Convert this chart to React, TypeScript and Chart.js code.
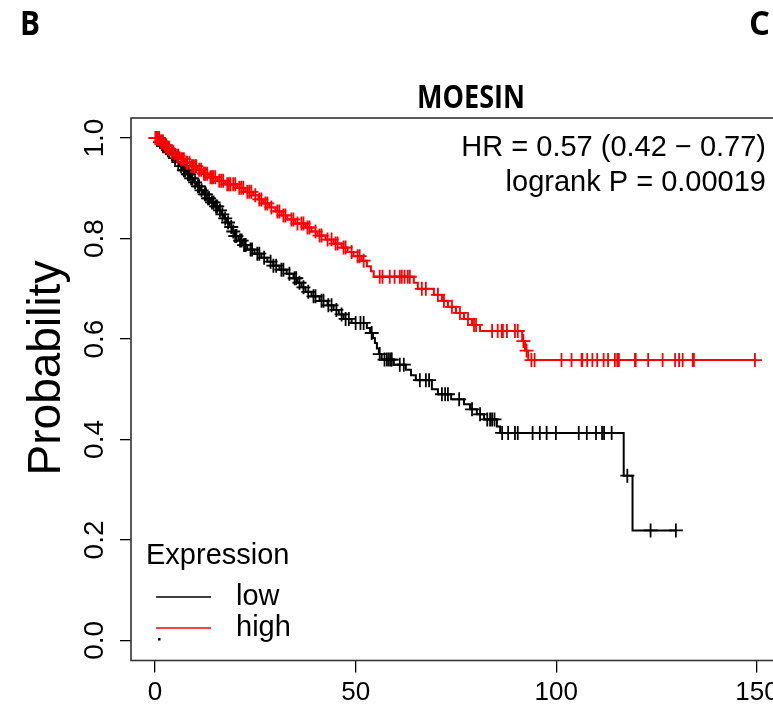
import React, { useEffect, useRef } from 'react';
import { Chart, registerables } from 'chart.js';

Chart.register(...registerables);

// ---------- text ----------
const chartTitle = 'MOESIN';
const panelLeft = 'B';
const panelRight = 'C';
const statLines = ['HR = 0.57 (0.42 \u2212 0.77)', 'logrank P = 0.00019'];
const legendTitle = 'Expression';
const seriesNames = ['low', 'high'];
const seriesColors = ['#000000', '#ff0000'];
const yAxisTitle = 'Probability';

// ---------- axes ----------
const xTicks = [0, 50, 100, 150];
const xTickLabels = ['0', '50', '100', '150'];
const yTicks = [0, 0.2, 0.4, 0.6, 0.8, 1.0];
const yTickLabels = ['0.0', '0.2', '0.4', '0.6', '0.8', '1.0'];
const xRange = [-5.98, 155.5];
const yRange = [-0.04, 1.04];

// ---------- low expression (black) ----------
const lowTimes = [0, 1.0, 2.0, 3.0, 3.8, 4.6, 5.4, 6.2, 6.9, 7.8, 8.8, 9.6, 10.4, 11.2, 12.0, 12.8, 13.8, 14.8, 15.8, 16.6, 17.2, 17.9, 18.6, 19.2, 19.9, 20.8, 21.8, 23.0, 24.8, 26.5, 28.0, 29.5, 31.0, 32.8, 34.5, 35.5, 36.5, 37.5, 39.0, 41.0, 43.0, 44.5, 45.8, 47.0, 49.0, 52.8, 53.6, 54.3, 54.8, 55.3, 55.8, 56.5, 59.5, 62.5, 63.8, 65.0, 69.0, 70.5, 73.8, 77.0, 78.5, 80.2, 82.0, 85.2, 86.0, 116.8, 119.0, 129.8];
const lowSurv = [1.0, 0.992, 0.984, 0.976, 0.968, 0.960, 0.952, 0.944, 0.936, 0.928, 0.920, 0.912, 0.904, 0.896, 0.888, 0.880, 0.872, 0.864, 0.856, 0.848, 0.840, 0.832, 0.823, 0.814, 0.805, 0.796, 0.787, 0.778, 0.770, 0.762, 0.754, 0.746, 0.738, 0.730, 0.721, 0.712, 0.703, 0.694, 0.685, 0.676, 0.667, 0.658, 0.649, 0.640, 0.632, 0.622, 0.612, 0.602, 0.592, 0.581, 0.570, 0.559, 0.549, 0.539, 0.528, 0.518, 0.500, 0.490, 0.480, 0.470, 0.460, 0.450, 0.440, 0.426, 0.413, 0.328, 0.219, 0.219];
const lowCensor = [0.2, 0.5, 0.9, 1.2, 1.5, 2.0, 2.5, 3.2, 3.5, 4.2, 4.5, 5.0, 5.8, 6.5, 7.2, 7.5, 8.2, 8.5, 9.0, 9.3, 10.0, 10.7, 11.0, 11.6, 12.4, 12.7, 13.2, 13.5, 14.2, 14.6, 15.2, 15.5, 16.2, 16.8, 17.5, 18.2, 19.0, 19.5, 20.0, 20.3, 21.2, 21.6, 22.2, 22.6, 23.8, 24.2, 25.5, 26.0, 27.2, 28.8, 29.5, 30.2, 31.5, 32.0, 33.5, 34.8, 35.2, 36.0, 37.0, 38.2, 39.5, 40.0, 41.5, 42.0, 43.2, 44.0, 45.2, 46.5, 47.5, 48.3, 50.0, 51.2, 52.0, 54.0, 56.0, 57.2, 57.8, 58.3, 58.8, 59.0, 61.0, 62.0, 66.0, 67.5, 68.3, 71.5, 72.3, 73.0, 75.8, 79.0, 81.0, 82.8, 83.5, 84.0, 84.6, 86.5, 88.0, 89.7, 90.4, 94.1, 95.9, 97.6, 99.9, 105.6, 107.6, 109.9, 111.4, 111.9, 113.8, 117.7, 123.5, 129.8];

// ---------- high expression (red) ----------
const highTimes = [0, 1.2, 2.2, 3.0, 4.0, 5.0, 6.2, 7.5, 9.0, 10.5, 12.0, 13.5, 15.5, 17.5, 20.5, 22.5, 24.5, 25.8, 27.0, 28.5, 30.0, 31.5, 33.0, 35.0, 37.5, 39.0, 40.5, 42.5, 44.5, 46.5, 48.0, 49.5, 51.5, 52.8, 53.8, 54.5, 64.5, 65.5, 69.5, 71.5, 73.0, 75.0, 77.0, 79.0, 81.0, 91.5, 92.2, 93.0, 149.5];
const highSurv = [1.0, 0.993, 0.986, 0.979, 0.972, 0.965, 0.958, 0.951, 0.944, 0.937, 0.929, 0.922, 0.915, 0.908, 0.901, 0.893, 0.886, 0.878, 0.870, 0.862, 0.854, 0.846, 0.838, 0.830, 0.822, 0.814, 0.806, 0.798, 0.790, 0.782, 0.773, 0.765, 0.756, 0.745, 0.735, 0.724, 0.712, 0.700, 0.688, 0.676, 0.664, 0.652, 0.640, 0.628, 0.616, 0.596, 0.577, 0.558, 0.558];
const highCensor = [0.1, 0.3, 0.5, 0.8, 1.0, 1.5, 1.8, 2.0, 2.5, 2.8, 3.2, 3.5, 4.2, 4.6, 5.5, 5.8, 6.5, 6.8, 7.2, 7.8, 8.0, 8.6, 9.2, 9.5, 10.0, 10.3, 11.0, 11.5, 12.2, 12.5, 13.0, 13.8, 14.2, 14.5, 15.0, 16.0, 16.5, 17.0, 18.0, 18.4, 18.8, 19.5, 20.0, 21.0, 21.5, 22.0, 23.0, 23.5, 24.0, 25.0, 26.0, 26.5, 27.5, 28.0, 29.0, 30.5, 31.0, 32.0, 32.5, 34.0, 34.5, 35.5, 36.5, 37.0, 38.0, 38.5, 40.0, 41.0, 41.5, 43.0, 44.0, 45.0, 45.5, 47.0, 47.5, 49.0, 50.5, 51.0, 52.0, 56.0, 56.7, 58.5, 59.7, 61.0, 61.5, 62.2, 63.0, 63.5, 66.5, 67.5, 70.5, 72.0, 74.0, 76.0, 78.0, 79.5, 80.0, 84.0, 85.4, 86.4, 86.7, 87.7, 89.7, 90.4, 91.8, 92.6, 93.8, 94.6, 101.3, 103.8, 106.3, 106.5, 107.7, 109.0, 110.2, 111.8, 112.9, 114.6, 115.2, 115.6, 119.6, 119.8, 122.9, 126.5, 129.6, 130.6, 131.5, 134.0, 134.3, 149.5];

const FONT = '"Liberation Sans", Arial, Helvetica, sans-serif';
const BOLD = '"Open Sans", "Liberation Sans", sans-serif';

const stepData = (times: number[], surv: number[]) => times.map((t, i) => ({ x: t, y: surv[i] }));
const survAt = (times: number[], surv: number[], t: number) => {
  let s = surv[0];
  for (let i = 0; i < times.length; i++) {
    if (times[i] <= t) s = surv[i];
    else break;
  }
  return s;
};
const censorData = (cens: number[], times: number[], surv: number[]) =>
  cens.map((t) => ({ x: t, y: survAt(times, surv, t) }));

// draw bold text condensed horizontally to a given width
function fitText(ctx: CanvasRenderingContext2D, text: string, x: number, y: number, width: number, align: 'left' | 'center') {
  const w = ctx.measureText(text).width;
  const k = width / w;
  ctx.save();
  ctx.translate(x, y);
  ctx.scale(k, 1);
  ctx.textAlign = align;
  ctx.fillText(text, 0, 0);
  ctx.restore();
}

const decorPlugin = {
  id: 'decor',
  afterDraw(chart: any) {
    const ctx = chart.ctx as CanvasRenderingContext2D;
    const { left, right, top, bottom } = chart.chartArea;
    ctx.save();
    // plot box
    ctx.strokeStyle = '#333333';
    ctx.lineWidth = 1.6;
    ctx.strokeRect(left, top, right - left, bottom - top);

    // panel letters and title
    ctx.fillStyle = '#000';
    ctx.textBaseline = 'alphabetic';
    ctx.font = `bold 34px ${BOLD}`;
    fitText(ctx, panelLeft, 20, 35, 20, 'left');
    fitText(ctx, panelRight, 749, 35, 21, 'left');
    ctx.font = `bold 33px ${BOLD}`;
    fitText(ctx, chartTitle, 471, 108, 108, 'center');

    // y axis title
    ctx.save();
    ctx.font = `46px ${FONT}`;
    ctx.translate(47, 368);
    ctx.rotate(-Math.PI / 2);
    ctx.textAlign = 'center';
    ctx.textBaseline = 'middle';
    ctx.fillText(yAxisTitle, 0, 0);
    ctx.restore();

    // statistics
    ctx.font = `29px ${FONT}`;
    ctx.textAlign = 'right';
    ctx.textBaseline = 'alphabetic';
    ctx.fillText(statLines[0], 766, 156);
    ctx.fillText(statLines[1], 766, 191);

    // legend
    ctx.textAlign = 'left';
    ctx.fillText(legendTitle, 146, 564);
    const rows = [597, 628];
    rows.forEach((y, i) => {
      ctx.strokeStyle = seriesColors[i];
      ctx.lineWidth = 1.7;
      ctx.beginPath();
      ctx.moveTo(156, y);
      ctx.lineTo(211, y);
      ctx.stroke();
      ctx.fillStyle = '#000';
      ctx.textBaseline = 'middle';
      ctx.fillText(seriesNames[i], 236, y);
    });
    ctx.fillStyle = '#000';
    ctx.fillRect(158, 638, 2.5, 2.5);
    ctx.restore();
  },
};

export default function App() {
  const ref = useRef<HTMLCanvasElement>(null);
  useEffect(() => {
    const canvas = ref.current!;
    const censorStyle = (color: string) => ({
      pointStyle: 'cross',
      pointRadius: 7,
      pointBorderWidth: 1.8,
      pointBorderColor: color,
      borderColor: color,
      backgroundColor: color,
      showLine: false,
    });
    const lineStyle = (color: string) => ({
      stepped: true,
      borderColor: color,
      borderWidth: 2,
      pointRadius: 0,
      fill: false,
    });
    const chart = new Chart(canvas, {
      type: 'line',
      data: {
        datasets: [
          { type: 'scatter', label: seriesNames[1] + ' censored', data: censorData(highCensor, highTimes, highSurv), ...censorStyle(seriesColors[1]) } as any,
          { type: 'line', label: seriesNames[1], data: stepData(highTimes, highSurv), ...lineStyle(seriesColors[1]) } as any,
          { type: 'scatter', label: seriesNames[0] + ' censored', data: censorData(lowCensor, lowTimes, lowSurv), ...censorStyle(seriesColors[0]) } as any,
          { type: 'line', label: seriesNames[0], data: stepData(lowTimes, lowSurv), ...lineStyle(seriesColors[0]) } as any,
        ],
      },
      options: {
        responsive: false,
        animation: false,
        devicePixelRatio: 1,
        events: [],
        layout: { padding: { top: 118, right: 21, left: 0, bottom: 0 } },
        plugins: {
          legend: { display: false },
          tooltip: { enabled: false },
          title: { display: false },
        },
        scales: {
          x: {
            type: 'linear',
            position: 'bottom',
            min: xRange[0],
            max: xRange[1],
            afterBuildTicks: (s: any) => {
              s.ticks = xTicks.map((v) => ({ value: v }));
            },
            afterFit: (s: any) => {
              s.height = 706 - 660.5;
            },
            grid: { drawOnChartArea: false, drawTicks: true, tickLength: 12, color: '#000', lineWidth: 1.3 },
            border: { display: false },
            ticks: {
              color: '#000',
              font: { family: FONT, size: 26 },
              padding: 5,
              maxRotation: 0,
              autoSkip: false,
              callback: (_v: any, i: number) => xTickLabels[i],
            },
          },
          y: {
            type: 'linear',
            position: 'left',
            min: yRange[0],
            max: yRange[1],
            afterBuildTicks: (s: any) => {
              s.ticks = yTicks.map((v) => ({ value: v }));
            },
            afterFit: (s: any) => {
              s.width = 131;
            },
            grid: { drawOnChartArea: false, drawTicks: true, tickLength: 11, color: '#000', lineWidth: 1.3 },
            border: { display: false },
            ticks: {
              color: '#000',
              font: { family: FONT, size: 28 },
              padding: 5,
              minRotation: 90,
              maxRotation: 90,
              crossAlign: 'center',
              autoSkip: false,
              callback: (_v: any, i: number) => yTickLabels[i],
            },
          },
        },
      } as any,
      plugins: [decorPlugin],
    });
    return () => chart.destroy();
  }, []);

  return (
    <div style={{ position: 'fixed', left: 0, top: 0, width: 773, height: 706, overflow: 'hidden', background: '#fff' }}>
      <canvas ref={ref} width={800} height={706} style={{ display: 'block' }} />
    </div>
  );
}
